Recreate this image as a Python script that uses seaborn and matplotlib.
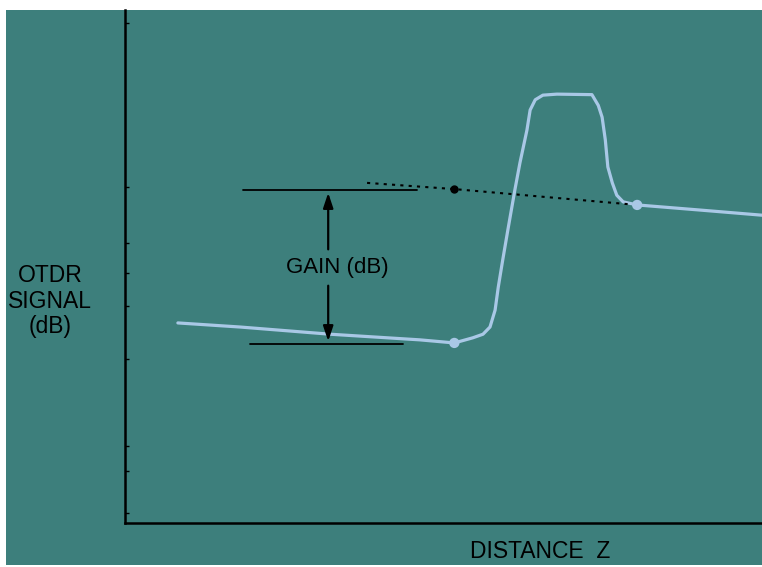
import numpy as np
import pandas as pd
import matplotlib.pyplot as plt
import matplotlib.patches as mpatches
import seaborn as sns

# OTDR trace (distance, signal)
trace_z = [8.3, 18.1, 32.2, 46.3, 51.7, 54.6, 56.2, 57.3, 58.1, 58.6, 59.3, 60.1, 61.2,
           62.0, 63.1, 63.6, 64.4, 65.6, 67.8, 73.3, 74.3, 74.9, 75.4, 75.8, 76.5,
           77.2, 78.2, 80.4, 90.3, 100.0]
trace_db = [39.0, 38.2, 36.8, 35.7, 35.1, 36.1, 36.8, 38.2, 41.5, 46.0, 51.3, 57.1, 64.9,
            70.2, 76.6, 80.5, 82.5, 83.4, 83.6, 83.5, 81.4, 79.1, 74.7, 69.4, 66.3,
            63.9, 62.6, 62.0, 61.0, 60.0]

# extrapolated unamplified level (dotted)
ref_z = [38.0, 51.6, 80.4]
ref_db = [66.3, 65.1, 62.0]

# points marked on the trace
mark_z = [51.7, 80.4]
mark_db = [35.1, 62.0]

gain_top = 64.9
gain_bottom = 34.9
gain_z = 31.9

ytick_vals = [97.5, 65.5, 54.6, 48.7, 42.3, 32.0, 15.0, 10.1, 1.9]

teal = '#3d7f7c'
trace_col = '#a9c8e6'

sns.set_style('white')
plt.rcParams['font.family'] = ['Liberation Sans', 'DejaVu Sans']
plt.rcParams['text.color'] = 'black'

fig = plt.figure(figsize=(7.62, 5.67), dpi=100)
fig.patch.set_facecolor('white')
fig.patches.append(mpatches.Rectangle((6 / 762, 2 / 567), 756 / 762, 555 / 567,
                                      transform=fig.transFigure, facecolor=teal,
                                      edgecolor='none', zorder=-10))

ax = fig.add_axes([125 / 762, 44 / 567, 637 / 762, 513 / 567])
ax.set_facecolor('none')

df = pd.DataFrame({'z': trace_z, 'db': trace_db})
sns.lineplot(data=df, x='z', y='db', sort=False, estimator=None,
             color=trace_col, linewidth=2.3, solid_joinstyle='round',
             solid_capstyle='round', ax=ax)
sns.scatterplot(x=mark_z, y=mark_db, color=trace_col, s=55, edgecolor='none', ax=ax, zorder=5)

ax.plot(ref_z, ref_db, color='black', linestyle=(0, (1.5, 2.5)), linewidth=1.5)
ax.plot([ref_z[1]], [ref_db[1]], 'o', color='black', markersize=5)

# gain construction
ax.plot([18.5, 45.8], [gain_top, gain_top], color='black', linewidth=1.3)
ax.plot([19.6, 43.6], [gain_bottom, gain_bottom], color='black', linewidth=1.3)
arrow_kw = dict(arrowstyle='-|>,head_length=0.9,head_width=0.3', color='black', lw=1.6)
ax.annotate('', xy=(gain_z, gain_top), xytext=(gain_z, 52.8), arrowprops=arrow_kw)
ax.annotate('', xy=(gain_z, gain_bottom), xytext=(gain_z, 46.8), arrowprops=arrow_kw)
ax.text(33.3, 49.9, 'GAIN (dB)', ha='center', va='center', fontsize=16, color='black')

ax.set_xlim(0, 100)
ax.set_ylim(0, 100)
ax.set_xticks([])
ax.set_yticks(ytick_vals)
ax.set_yticklabels([])
ax.tick_params(axis='y', direction='in', length=3, width=1, color='black', left=True)
ax.set_xlabel('')
ax.set_ylabel('')
for side in ['top', 'right']:
    ax.spines[side].set_visible(False)
for side in ['left', 'bottom']:
    ax.spines[side].set_color('black')
    ax.spines[side].set_linewidth(1.8)

fig.text(50 / 762, 1 - 301 / 567, 'OTDR\nSIGNAL\n(dB)', ha='center', va='center',
         fontsize=16.5, linespacing=1.15, color='black')
fig.text(540 / 762, 1 - 551 / 567, 'DISTANCE  Z', ha='center', va='center',
         fontsize=16.5, color='black')

fig.savefig('out.png', dpi=100, facecolor=fig.get_facecolor())
